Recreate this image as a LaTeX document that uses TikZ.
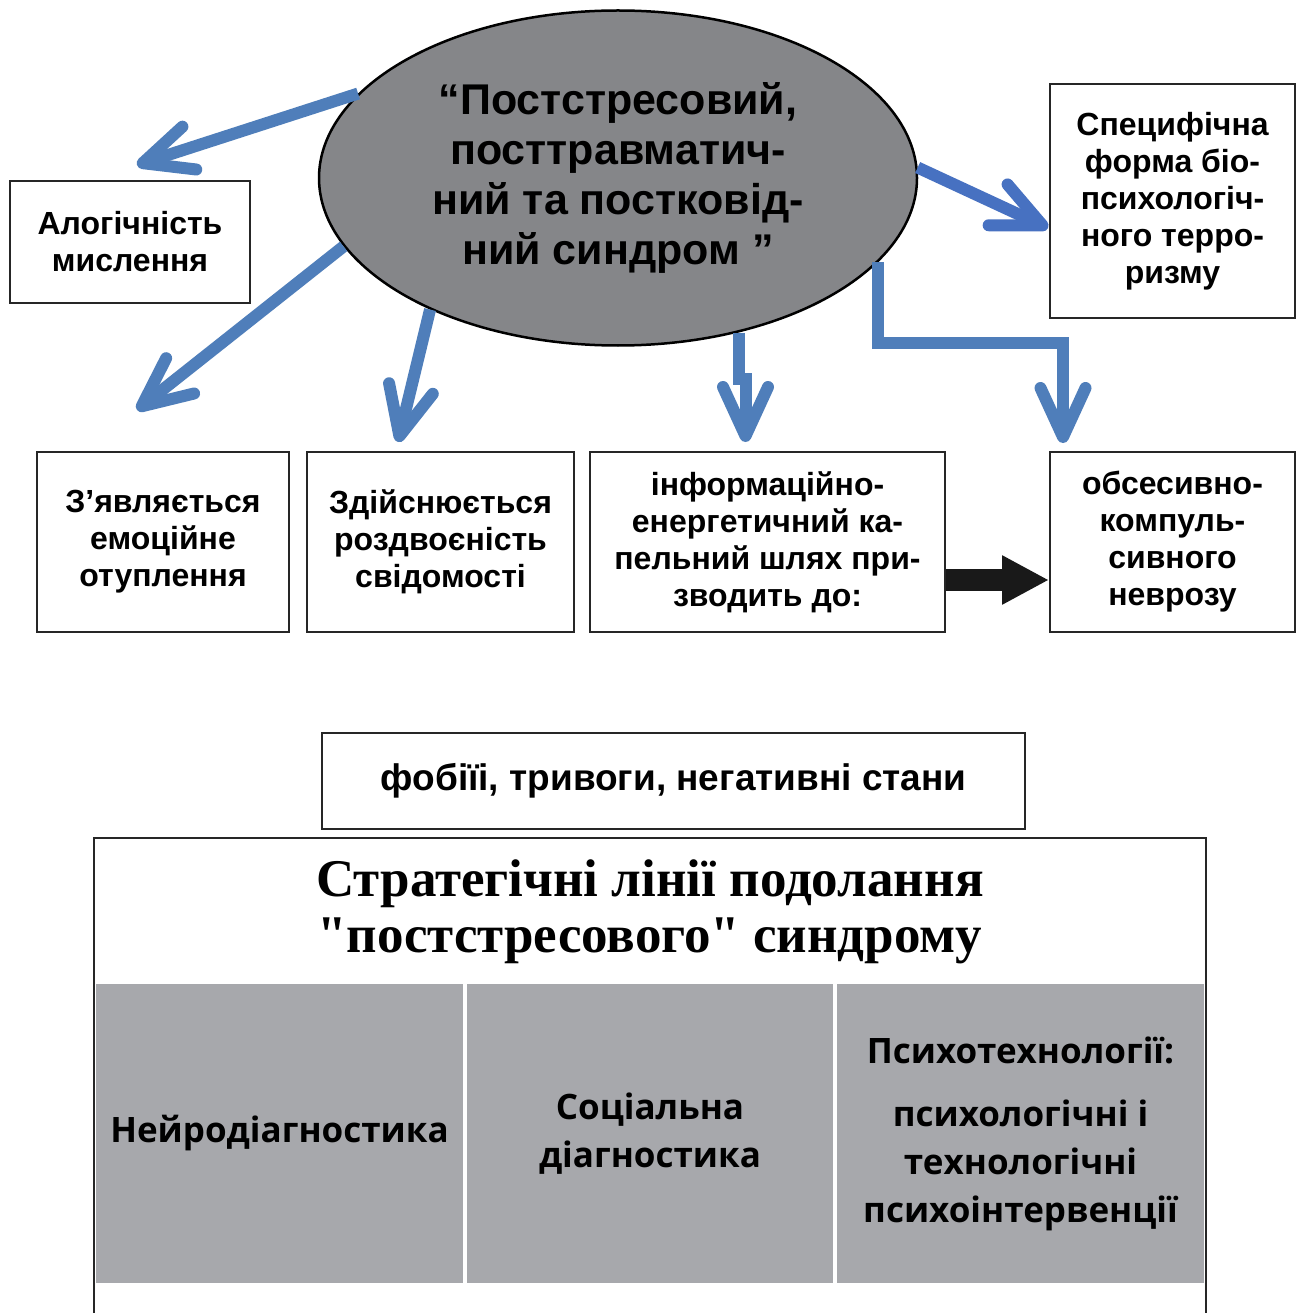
\documentclass[tikz,border=0pt]{standalone}
\usepackage{fontspec}
\setmainfont{Liberation Sans}
\newfontfamily\tnrfont{Liberation Serif}
\newfontfamily\osfont{Open Sans}
\usetikzlibrary{shapes.geometric,arrows.meta}
\definecolor{barrowc}{HTML}{4F7EBA}
\definecolor{ellgray}{HTML}{858689}
\definecolor{cellgray}{HTML}{A7A8AC}
\begin{document}
\begin{tikzpicture}[x=1pt,y=-1pt,
  box/.style={draw=black!85, line width=2pt, fill=white, align=center, inner sep=0pt,
    font=\bfseries\fontsize{32}{37}\selectfont},
  barrow/.style={draw=barrowc, line width=12pt, line join=miter,
    -{Straight Barb[length=49pt,width=45pt,round]}},
  karrow/.style={draw=black!90, line width=22pt, -{Triangle[length=47pt,width=46pt]}},
  cell/.style={fill=cellgray, inner sep=0pt, align=center,
    font=\osfont\bfseries\fontsize{35}{48}\selectfont}
]
\useasboundingbox (0,0) rectangle (1301,1313);
\fill[white] (0,0) rectangle (1301,1313);

% central ellipse
\node[ellipse, draw=black, line width=2.5pt, fill=ellgray, minimum width=598pt, minimum height=335pt,
  inner sep=0pt, align=center, font=\bfseries\fontsize{43}{50}\selectfont] (ell) at (618,178)
  {“Постстресовий,\\посттравматич-\\ний та постковід-\\ний синдром ”};

% boxes
\node[box, minimum width=240pt, minimum height=122pt] (alog) at (130,242) {Алогічність\\мислення};
\node[box, minimum width=245pt, minimum height=234pt] (spec) at (1172.5,201)
  {Специфічна\\форма біо-\\психологіч-\\ного терро-\\ризму};
\node[box, minimum width=252pt, minimum height=180pt] (b1) at (163,542) {З’являється\\емоційне\\отуплення};
\node[box, minimum width=267pt, minimum height=180pt] (b2) at (440.5,542) {Здійснюється\\роздвоєність\\свідомості};
\node[box, minimum width=355pt, minimum height=180pt] (b3) at (767.5,542)
  {інформаційно-\\енергетичний ка-\\пельний шлях при-\\зводить до:};
\node[box, minimum width=245pt, minimum height=180pt] (b4) at (1172.5,542)
  {обсесивно-\\компуль-\\сивного\\неврозу};
\node[box, minimum width=703pt, minimum height=96pt, font=\bfseries\fontsize{37}{42}\selectfont] (fob) at (673.5,781)
  {фобіїі, тривоги, негативні стани};

% arrow tips (free ends)
\coordinate (t1) at (137,165);
\coordinate (t2) at (137,410);
\coordinate (t3) at (398,442);
\coordinate (t4) at (745.5,442);
\coordinate (t5) at (1063,443);
\coordinate (t6) at (1048,228);

\draw[barrow] (ell.162.4) -- (t1);
\draw[barrow] (ell.194.4) -- (t2);
\draw[barrow] (ell.215) -- (t3);
\draw[barrow] (ell.-52) -- ++(0,46) -| (t4);
\draw[barrow] (ell.-18) -- ++(0,81) -| (t5);
\draw[barrow, draw=barrowc!90!blue] (ell.2) -- (t6);

\draw[karrow] ([yshift=-38pt]b3.east) -- ([yshift=-38pt]b4.west);

% bottom table
\draw[line width=2pt, draw=black!85] (94,1313) -- (94,838) -- (1206,838) -- (1206,1313);
\node[align=center, inner sep=0pt, font=\tnrfont\bfseries\fontsize{53}{56}\selectfont] (title) at (650,912)
  {Стратегічні лінії подолання\\"постстресового" синдрому};
\node[cell, minimum width=367pt, minimum height=299pt] (c1) at (279.5,1133.5) {Нейродіагностика};
\node[cell, minimum width=366pt, minimum height=299pt] (c2) at (650,1133.5) {Соціальна\\діагностика};
\node[cell, minimum width=367pt, minimum height=299pt] (c3) at (1020.5,1133.5)
  {Психотехнології:\\[15pt]психологічні і\\технологічні\\психоінтервенції};
\end{tikzpicture}
\end{document}
